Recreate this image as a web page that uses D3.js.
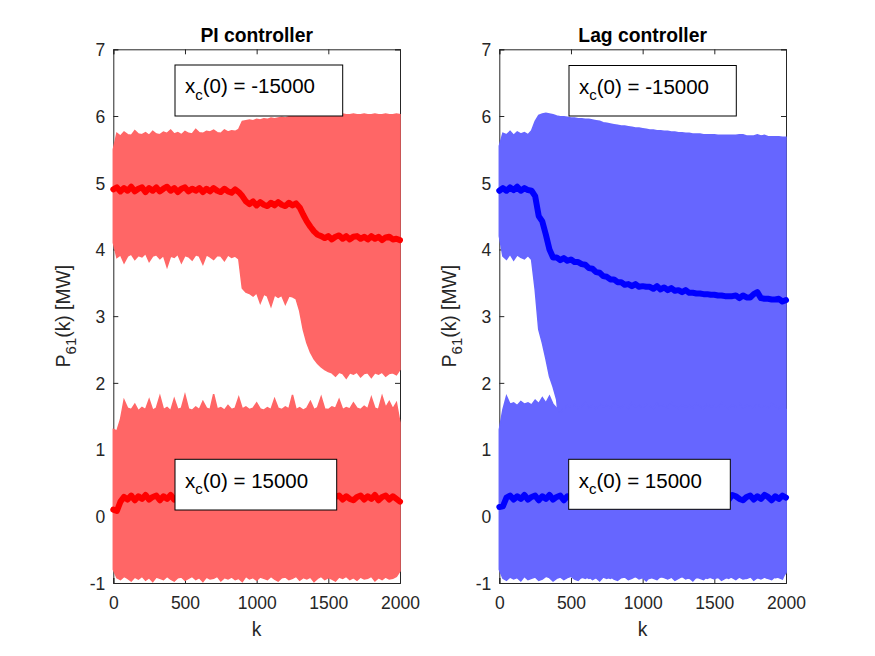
<!DOCTYPE html>
<html>
<head>
<meta charset="utf-8">
<script src="https://cdn.jsdelivr.net/npm/d3@7/dist/d3.min.js"></script>
<style>
  html, body { margin: 0; padding: 0; background: #fff; }
  svg { display: block; }
  text { font-family: "Liberation Sans", Arial, Helvetica, sans-serif; }
</style>
</head>
<body>
<svg id="chart" width="875" height="656"></svg>
<script>
// ---------------- DATA ----------------
const K = [0,25,50,75,100,125,150,175,200,225,
  250,275,300,325,350,375,400,425,450,475,
  500,525,550,575,600,625,650,675,700,725,
  750,775,800,825,850,875,900,925,950,975,
  1000,1025,1050,1075,1100,1125,1150,1175,1200,1225,
  1250,1275,1300,1325,1350,1375,1400,1425,1450,1475,
  1500,1525,1550,1575,1600,1625,1650,1675,1700,1725,
  1750,1775,1800,1825,1850,1875,1900,1925,1950,1975,
  2000];

const xTicks = [0, 500, 1000, 1500, 2000];
const yTicks = [-1, 0, 1, 2, 3, 4, 5, 6, 7];
const titles = ["PI controller", "Lag controller"];
const boxLabels = ["-15000", "15000"];

// PI controller, x_c(0) = -15000 : oscillation envelope and mean
const piAUp = [5.50,5.74,5.70,5.76,5.72,5.71,5.78,5.73,5.72,5.75,
  5.71,5.77,5.73,5.72,5.76,5.74,5.79,5.73,5.75,5.72,
  5.77,5.74,5.73,5.80,5.75,5.74,5.77,5.76,5.79,5.75,
  5.74,5.79,5.76,5.78,5.77,5.80,5.92,5.93,5.94,5.93,
  5.95,5.94,5.96,5.95,5.97,5.96,5.97,5.98,5.97,5.99,
  5.99,6.00,6.01,6.02,6.02,6.03,6.02,6.02,6.03,6.02,
  6.02,6.03,6.02,6.02,6.03,6.02,6.02,6.03,6.02,6.02,
  6.03,6.02,6.02,6.03,6.02,6.02,6.03,6.02,6.02,6.03,
  6.02];
const piALo = [4.10,3.88,3.92,3.80,3.90,3.93,3.85,3.91,3.89,3.94,
  3.82,3.90,3.92,3.86,3.91,3.74,3.90,3.88,3.93,3.80,
  3.91,3.89,3.84,3.92,3.90,3.78,3.92,3.89,3.85,3.91,
  3.90,3.83,3.92,3.88,3.90,3.86,3.42,3.36,3.34,3.30,
  3.35,3.20,3.33,3.30,3.15,3.32,3.28,3.31,3.18,3.30,
  3.29,3.26,3.08,2.80,2.60,2.46,2.36,2.29,2.24,2.20,
  2.17,2.15,2.10,2.16,2.14,2.07,2.15,2.13,2.16,2.09,
  2.14,2.15,2.08,2.15,2.13,2.16,2.10,2.14,2.15,2.12,
  2.20];
const piAMid = [4.90,4.93,4.87,4.92,4.88,4.94,4.87,4.91,4.93,4.86,
  4.92,4.88,4.93,4.87,4.91,4.94,4.88,4.92,4.86,4.91,
  4.93,4.87,4.91,4.88,4.92,4.86,4.91,4.87,4.92,4.88,
  4.86,4.91,4.87,4.85,4.90,4.86,4.80,4.72,4.68,4.72,
  4.66,4.71,4.67,4.65,4.70,4.66,4.71,4.67,4.65,4.70,
  4.66,4.69,4.63,4.52,4.42,4.34,4.27,4.22,4.20,4.17,
  4.20,4.15,4.19,4.21,4.16,4.20,4.15,4.19,4.20,4.16,
  4.19,4.15,4.20,4.16,4.19,4.14,4.18,4.19,4.15,4.16,
  4.14];

// PI controller, x_c(0) = 15000
const piBUp = [1.30,1.28,1.45,1.74,1.62,1.60,1.68,1.58,1.63,1.60,
  1.75,1.59,1.62,1.80,1.60,1.63,1.58,1.76,1.60,1.62,
  1.82,1.61,1.59,1.64,1.60,1.72,1.62,1.60,1.83,1.61,
  1.63,1.59,1.66,1.60,1.62,1.78,1.61,1.64,1.60,1.62,
  1.70,1.61,1.59,1.63,1.60,1.76,1.62,1.60,1.64,1.61,
  1.82,1.60,1.63,1.59,1.62,1.72,1.60,1.63,1.79,1.61,
  1.60,1.64,1.62,1.75,1.60,1.63,1.61,1.70,1.62,1.60,
  1.65,1.61,1.78,1.62,1.60,1.80,1.63,1.72,1.61,1.70,
  1.40];
const piBLo = [-0.80,-0.92,-0.95,-0.90,-0.93,-0.97,-0.91,-0.94,-0.90,-0.96,
  -0.92,-0.98,-0.91,-0.93,-0.95,-0.90,-0.94,-0.97,-0.92,-0.91,
  -0.96,-0.93,-0.90,-0.95,-0.92,-0.98,-0.91,-0.94,-0.93,-0.90,
  -0.97,-0.92,-0.94,-0.91,-0.95,-0.93,-0.98,-0.90,-0.94,-0.92,
  -0.96,-0.91,-0.93,-0.95,-0.90,-0.94,-0.97,-0.92,-0.91,-0.95,
  -0.93,-0.90,-0.96,-0.92,-0.94,-0.91,-0.98,-0.93,-0.90,-0.95,
  -0.92,-0.94,-0.97,-0.91,-0.93,-0.90,-0.95,-0.92,-0.96,-0.91,
  -0.94,-0.93,-0.90,-0.97,-0.92,-0.95,-0.91,-0.94,-0.93,-0.90,
  -0.82];
const piBMid = [0.10,0.08,0.22,0.29,0.25,0.31,0.24,0.30,0.26,0.32,
  0.25,0.29,0.31,0.24,0.30,0.26,0.32,0.25,0.29,0.31,
  0.24,0.29,0.26,0.31,0.25,0.30,0.27,0.24,0.32,0.26,
  0.30,0.25,0.29,0.31,0.24,0.30,0.26,0.29,0.32,0.25,
  0.29,0.26,0.31,0.24,0.30,0.25,0.29,0.31,0.26,0.24,
  0.30,0.27,0.25,0.31,0.26,0.24,0.30,0.27,0.25,0.32,
  0.26,0.24,0.29,0.31,0.25,0.30,0.26,0.24,0.29,0.31,
  0.25,0.30,0.26,0.32,0.24,0.29,0.31,0.25,0.30,0.26,
  0.22];

// Lag controller, x_c(0) = -15000
const lagAUp = [5.55,5.74,5.72,5.77,5.71,5.76,5.73,5.75,5.72,5.78,
  5.92,6.01,6.03,6.04,6.03,6.02,6.00,5.99,5.99,5.98,
  5.97,5.97,5.96,5.96,5.95,5.95,5.94,5.93,5.92,5.90,
  5.89,5.88,5.87,5.86,5.85,5.85,5.84,5.83,5.82,5.82,
  5.81,5.80,5.79,5.79,5.78,5.78,5.77,5.77,5.76,5.76,
  5.75,5.75,5.74,5.74,5.73,5.73,5.73,5.72,5.72,5.72,
  5.72,5.71,5.71,5.71,5.71,5.71,5.71,5.72,5.72,5.70,
  5.70,5.70,5.72,5.70,5.71,5.69,5.69,5.69,5.69,5.68,
  5.68];
const lagALo = [4.20,3.90,3.85,3.93,3.84,3.92,3.88,3.86,3.91,3.85,
  3.40,2.80,2.60,2.36,2.10,1.94,1.75,1.20,0.60,0.00,
  -0.50,-0.85,-0.90,-0.92,-0.90,-0.93,-0.91,-0.90,-0.92,-0.90,
  -0.91,-0.93,-0.90,-0.92,-0.91,-0.90,-0.93,-0.91,-0.90,-0.92,
  -0.90,-0.91,-0.93,-0.90,-0.92,-0.91,-0.90,-0.93,-0.91,-0.90,
  -0.92,-0.90,-0.91,-0.93,-0.90,-0.92,-0.91,-0.90,-0.93,-0.91,
  -0.90,-0.92,-0.90,-0.91,-0.93,-0.90,-0.92,-0.91,-0.90,-0.93,
  -0.91,-0.90,-0.92,-0.90,-0.91,-0.93,-0.90,-0.92,-0.91,-0.90,
  -0.85];
const lagAMid = [4.88,4.92,4.88,4.93,4.89,4.94,4.88,4.92,4.89,4.88,
  4.80,4.50,4.42,4.22,4.00,3.88,3.88,3.84,3.87,3.83,
  3.85,3.81,3.81,3.78,3.77,3.72,3.71,3.66,3.65,3.60,
  3.59,3.55,3.55,3.51,3.51,3.47,3.48,3.45,3.48,3.44,
  3.45,3.44,3.44,3.41,3.45,3.40,3.43,3.39,3.42,3.38,
  3.39,3.36,3.39,3.35,3.35,3.34,3.34,3.33,3.33,3.32,
  3.32,3.31,3.31,3.30,3.30,3.30,3.31,3.27,3.31,3.28,
  3.28,3.33,3.36,3.27,3.26,3.26,3.25,3.25,3.26,3.22,
  3.24];

// Lag controller, x_c(0) = 15000
const lagBUp = [1.30,1.60,1.80,1.68,1.70,1.66,1.72,1.68,1.70,1.67,
  1.74,1.69,1.78,1.70,1.80,1.68,1.62,1.55,1.62,1.66,
  1.64,1.68,1.62,1.65,1.70,1.63,1.66,1.61,1.68,1.64,
  1.66,1.62,1.69,1.65,1.63,1.67,1.62,1.70,1.64,1.66,
  1.63,1.68,1.65,1.62,1.69,1.64,1.66,1.63,1.70,1.65,
  1.62,1.67,1.64,1.66,1.63,1.69,1.65,1.62,1.68,1.64,
  1.66,1.63,1.70,1.65,1.62,1.67,1.64,1.69,1.63,1.66,
  1.65,1.62,1.68,1.64,1.66,1.63,1.69,1.65,1.62,1.67,
  1.60];
const lagBLo = [-0.80,-0.93,-0.96,-0.91,-0.94,-0.92,-0.97,-0.90,-0.95,-0.93,
  -0.91,-0.96,-0.94,-0.90,-0.92,-0.97,-0.93,-0.91,-0.95,-0.92,
  -0.90,-0.94,-0.96,-0.91,-0.93,-0.90,-0.95,-0.92,-0.97,-0.91,
  -0.93,-0.90,-0.94,-0.96,-0.92,-0.91,-0.95,-0.93,-0.90,-0.94,
  -0.92,-0.97,-0.91,-0.93,-0.95,-0.90,-0.92,-0.94,-0.91,-0.96,
  -0.93,-0.90,-0.94,-0.92,-0.97,-0.91,-0.93,-0.95,-0.90,-0.92,
  -0.94,-0.91,-0.96,-0.93,-0.90,-0.92,-0.95,-0.91,-0.94,-0.93,
  -0.90,-0.96,-0.92,-0.94,-0.91,-0.93,-0.95,-0.90,-0.92,-0.94,
  -0.82];
const lagBMid = [0.14,0.15,0.28,0.31,0.25,0.30,0.26,0.32,0.25,0.29,
  0.31,0.24,0.30,0.26,0.32,0.25,0.29,0.31,0.24,0.30,
  0.29,0.25,0.31,0.26,0.30,0.24,0.29,0.32,0.25,0.30,
  0.26,0.31,0.24,0.29,0.30,0.25,0.32,0.26,0.29,0.24,
  0.31,0.26,0.30,0.25,0.29,0.32,0.24,0.30,0.26,0.31,
  0.25,0.29,0.30,0.24,0.32,0.26,0.29,0.31,0.25,0.30,
  0.26,0.24,0.31,0.29,0.25,0.32,0.30,0.26,0.24,0.29,
  0.31,0.25,0.30,0.26,0.32,0.29,0.24,0.30,0.26,0.31,
  0.28];

// ---------------- LAYOUT ----------------
const FONT = '"Liberation Sans", Arial, Helvetica, sans-serif';
const AX = "#262626";
const panels = [
  { left: 113.3, right: 400, light: "#ff6666", dark: "#ff0000",
    A: {up: piAUp, lo: piALo, mid: piAMid}, B: {up: piBUp, lo: piBLo, mid: piBMid},
    boxes: [{dx: 61.7, y: 65, w: 167.7, h: 51}, {dx: 61.7, y: 459.3, w: 161.7, h: 50.7}] },
  { left: 499.3, right: 786, light: "#6666ff", dark: "#0000ff",
    A: {up: lagAUp, lo: lagALo, mid: lagAMid}, B: {up: lagBUp, lo: lagBLo, mid: lagBMid},
    boxes: [{dx: 69.7, y: 65.5, w: 167.3, h: 50.5}, {dx: 69.4, y: 459.3, w: 161.6, h: 50}] }
];
const TOP = 49.3, BOTTOM = 583;
const fmt = d => String(d);   // plain hyphen-minus like MATLAB

const svg = d3.select("#chart");
svg.append("rect").attr("width", 875).attr("height", 656).attr("fill", "#fff");

panels.forEach((p, pi) => {
  const x = d3.scaleLinear().domain([0, 2000]).range([p.left, p.right]);
  const y = d3.scaleLinear().domain([-1, 7]).range([BOTTOM, TOP]);
  const g = svg.append("g");

  // axes (drawn below data, like MATLAB Layer = bottom)
  const axG = g.append("g");
  const bottomAx = axG.append("g").attr("transform", `translate(0,${BOTTOM})`)
    .call(d3.axisBottom(x).tickValues(xTicks).tickSize(-5).tickPadding(9).tickFormat(fmt));
  const topAx = axG.append("g").attr("transform", `translate(0,${TOP})`)
    .call(d3.axisTop(x).tickValues(xTicks).tickSize(-5).tickFormat(""));
  const leftAx = axG.append("g").attr("transform", `translate(${p.left},0)`)
    .call(d3.axisLeft(y).tickValues(yTicks).tickSize(-5).tickPadding(8).tickFormat(fmt));
  const rightAx = axG.append("g").attr("transform", `translate(${p.right},0)`)
    .call(d3.axisRight(y).tickValues(yTicks).tickSize(-5).tickFormat(""));
  [bottomAx, topAx, leftAx, rightAx].forEach(a => {
    a.select(".domain").attr("stroke", AX).attr("stroke-width", 1);
    a.selectAll(".tick line").attr("stroke", AX).attr("stroke-width", 1);
    a.selectAll("text").attr("fill", AX).attr("font-size", 17.5).attr("font-family", FONT);
  });
  bottomAx.selectAll("text").attr("dy", "0.95em");
  leftAx.selectAll("text").attr("dy", "0.36em");

  // data
  const rows = key => K.map((k, i) => ({k, up: p[key].up[i], lo: p[key].lo[i], mid: p[key].mid[i]}));
  const area = d3.area().x(d => x(d.k)).y0(d => y(d.lo)).y1(d => y(d.up));
  const line = d3.line().x(d => x(d.k)).y(d => y(d.mid));
  ["A", "B"].forEach(key => {
    g.append("path").datum(rows(key)).attr("d", area)
      .attr("fill", p.light).attr("stroke", p.light).attr("stroke-width", 1.5)
      .attr("stroke-linejoin", "miter");
  });
  ["A", "B"].forEach(key => {
    g.append("path").datum(rows(key)).attr("d", line)
      .attr("fill", "none").attr("stroke", p.dark).attr("stroke-width", 6)
      .attr("stroke-linejoin", "round").attr("stroke-linecap", "round");
  });

  // annotation boxes
  p.boxes.forEach((b, bi) => {
    const bx = p.left + b.dx;
    g.append("rect").attr("x", bx).attr("y", b.y).attr("width", b.w).attr("height", b.h)
      .attr("fill", "#fff").attr("stroke", "#000").attr("stroke-width", 1);
    const t = g.append("text").attr("x", bx + 10).attr("y", b.y + 28.3)
      .attr("font-size", 20.5).attr("fill", "#000").attr("font-family", FONT);
    t.append("tspan").text("x");
    t.append("tspan").attr("font-size", 15).attr("dy", 6.5).text("c");
    t.append("tspan").attr("dy", -6.5).text("(0) = " + boxLabels[bi]);
  });

  // title
  g.append("text").attr("x", (p.left + p.right) / 2).attr("y", 41.7)
    .attr("text-anchor", "middle").attr("font-size", 19.3).attr("font-weight", "bold")
    .attr("fill", "#000").attr("font-family", FONT).text(titles[pi]);
  // x label
  g.append("text").attr("x", (p.left + p.right) / 2).attr("y", 636)
    .attr("text-anchor", "middle").attr("font-size", 19.3)
    .attr("fill", AX).attr("font-family", FONT).text("k");
  // y label
  const yl = g.append("text")
    .attr("transform", `translate(${p.left - 43},${(TOP + BOTTOM) / 2}) rotate(-90)`)
    .attr("text-anchor", "middle").attr("font-size", 19.3)
    .attr("fill", AX).attr("font-family", FONT);
  yl.append("tspan").text("P");
  yl.append("tspan").attr("font-size", 15).attr("dy", 6).text("61");
  yl.append("tspan").attr("dy", -6).text("(k) [MW]");
});
</script>
</body>
</html>
